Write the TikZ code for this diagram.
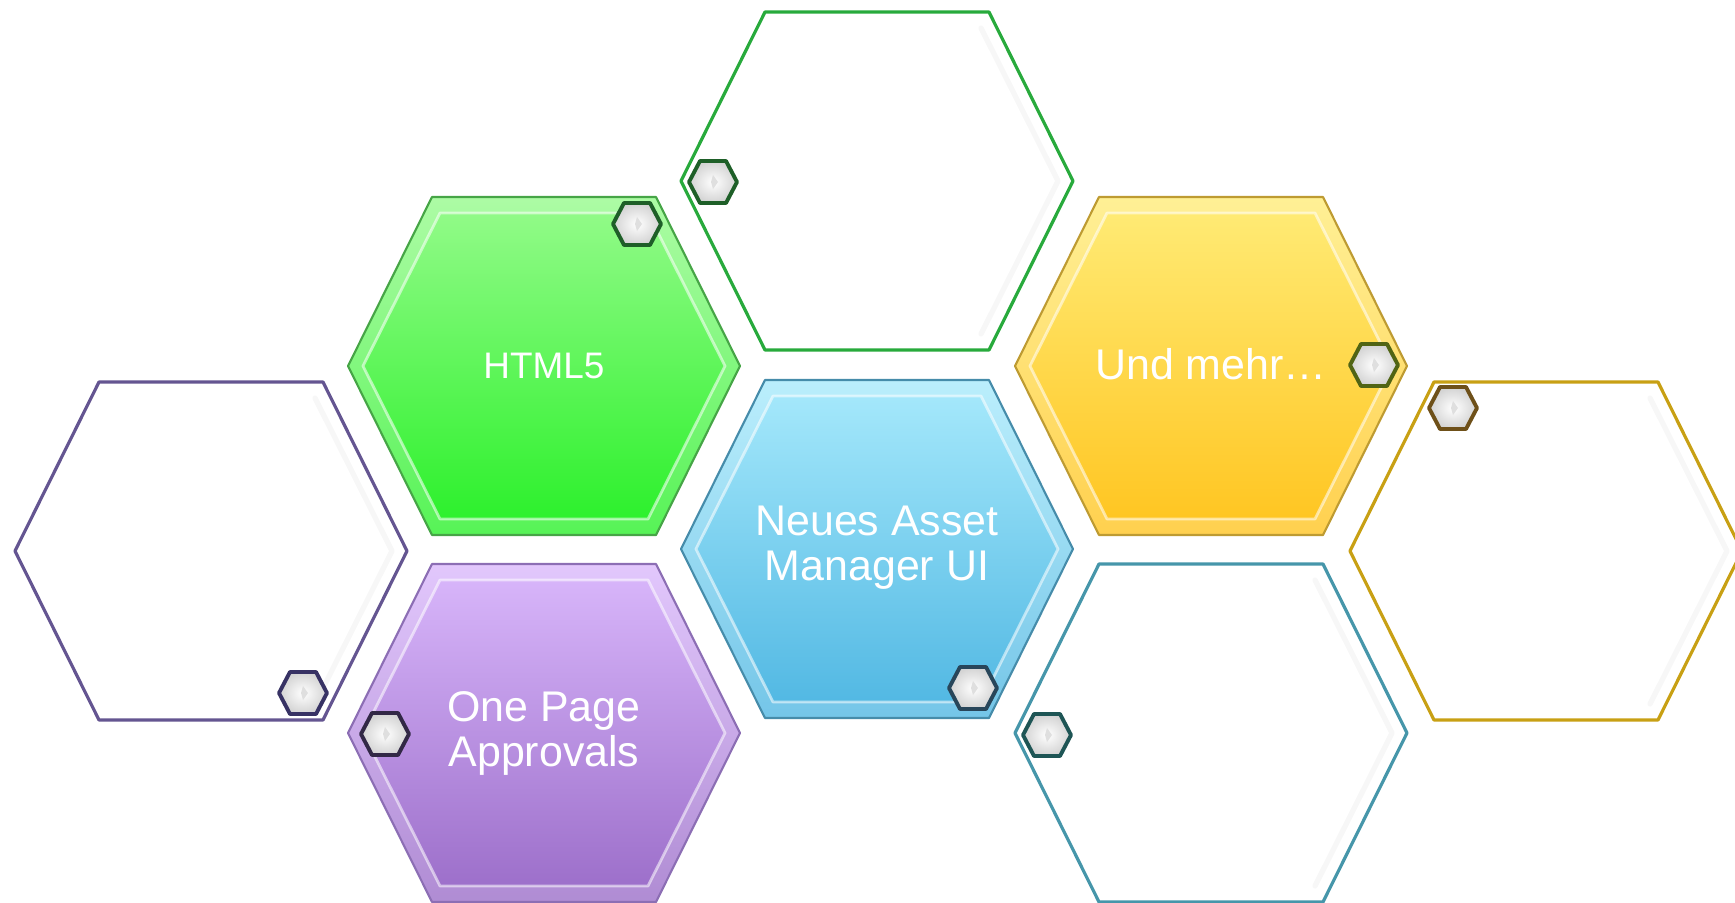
\documentclass[tikz,border=0pt]{standalone}
\usepackage{fontspec}
\setmainfont{Liberation Sans}
\usepackage{tikz}

\definecolor{grTop}{RGB}{150,251,140}
\definecolor{grBot}{RGB}{40,240,40}
\definecolor{grLine}{RGB}{70,165,70}
\definecolor{blTop}{RGB}{168,234,252}
\definecolor{blBot}{RGB}{78,182,226}
\definecolor{blLine}{RGB}{70,140,170}
\definecolor{yeTop}{RGB}{255,236,120}
\definecolor{yeBot}{RGB}{255,196,30}
\definecolor{yeLine}{RGB}{190,155,50}
\definecolor{puTop}{RGB}{218,184,252}
\definecolor{puBot}{RGB}{154,108,200}
\definecolor{puLine}{RGB}{140,110,180}
\definecolor{olGreen}{RGB}{40,170,60}
\definecolor{olPurple}{RGB}{100,85,145}
\definecolor{olTeal}{RGB}{70,150,170}
\definecolor{olGold}{RGB}{200,160,20}
\definecolor{bdGreen}{RGB}{30,95,40}
\definecolor{bdSlate}{RGB}{40,70,90}
\definecolor{bdOlive}{RGB}{80,100,20}
\definecolor{bdNavy}{RGB}{55,50,100}
\definecolor{bdPlum}{RGB}{50,40,70}
\definecolor{bdTeal}{RGB}{30,85,85}
\definecolor{bdBrown}{RGB}{110,80,25}

\tikzset{
  hextext/.style={text=white,align=center,font=\fontsize{12.2pt}{12.8pt}\selectfont},
  badge/.style={inner color=white,outer color=gray!35,line width=1.1pt},
}
% hexagon, centre at the origin, in pixel units
\newcommand{\hexshape}{(-196,0) -- (-112,169) -- (112,169) -- (196,0) -- (112,-169) -- (-112,-169) -- cycle}
\newcommand{\hexinner}{(-181,0) -- (-104,153) -- (104,153) -- (181,0) -- (104,-153) -- (-104,-153) -- cycle}
\newcommand{\badgeshape}{(-24,0) -- (-13,21) -- (13,21) -- (24,0) -- (13,-21) -- (-13,-21) -- cycle}

\begin{document}
\begin{tikzpicture}[line cap=round,line join=round,x=0.01cm,y=-0.01cm]
  \useasboundingbox (0,0) rectangle (1735,903);

  % empty outlined hexagons
  \foreach \cx/\cy/\cl in {877/181/olGreen,211/551/olPurple,1211/733/olTeal,1546/551/olGold}
  {
    \draw[gray!6,line width=1.5pt,shift={(\cx,\cy)}] (104,-153) -- (181,0) -- (104,153);
    \draw[\cl,line width=0.9pt,shift={(\cx,\cy)}] \hexshape;
  }

  % filled hexagons
  \foreach \cx/\cy/\ct/\cb/\cl in {544/366/grTop/grBot/grLine,877/549/blTop/blBot/blLine,1211/366/yeTop/yeBot/yeLine,544/733/puTop/puBot/puLine}
  {
    \shade[top color=\ct,bottom color=\cb,shift={(\cx,\cy)}] \hexshape;
    \fill[white,opacity=0.22,even odd rule,shift={(\cx,\cy)}] \hexshape \hexinner;
    \draw[white,opacity=0.55,line width=0.8pt,shift={(\cx,\cy)}] \hexinner;
    \draw[\cl,line width=0.6pt,shift={(\cx,\cy)}] \hexshape;
  }

  \node[hextext,font=\fontsize{10.5pt}{12.8pt}\selectfont] (html) at (544,366) {HTML5};
  \node[hextext] (assetui) at (877,548) {Neues Asset\\Manager UI};
  \node[hextext] (mehr) at (1211,364) {Und mehr\dots};
  \node[hextext] (approvals) at (544,733) {One Page\\Approvals};

  % small badges
  \foreach \bx/\by/\bl in {637/224/bdGreen,713/182/bdGreen,973/688/bdSlate,1374/365/bdOlive,303/693/bdNavy,385/734/bdPlum,1047/735/bdTeal,1453/408/bdBrown}
  {
    \shade[badge,draw=\bl,shift={(\bx,\by)}] \badgeshape;
    \fill[gray!25,shift={(\bx,\by)}] (0,-7) -- (5,0) -- (0,7) -- (-2,0) -- cycle;
  }
\end{tikzpicture}
\end{document}
